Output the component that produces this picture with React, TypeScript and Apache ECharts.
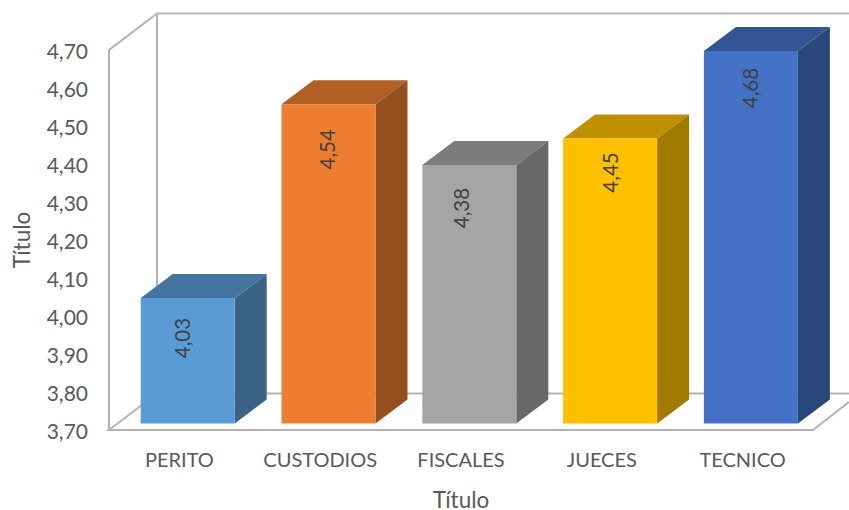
import React, { useEffect, useRef } from "react";
import * as echarts from "echarts";

const categories = ["PERITO", "CUSTODIOS", "FISCALES", "JUECES", "TECNICO"];
const values = [4.03, 4.54, 4.38, 4.45, 4.68];
const frontColors = ["#5B9BD5", "#ED7D31", "#A5A5A5", "#FFC000", "#4472C4"];
const topColors = ["#4475A1", "#B25E25", "#7C7C7C", "#BF9000", "#335593"];
const sideColors = ["#3A6386", "#96501F", "#686868", "#A17A00", "#2A477C"];
const labelShiftX = [-6, -2, -8, 0, -1];
const labelShiftY = [-1, 4, 2, -7, -4];
const axisName = "Título";
const yMin = 3.7;
const yMax = 4.7;
const yStep = 0.1;

const FONT = "Lato, 'Open Sans', sans-serif";
const GRID = { left: 109, top: 50, width: 704, height: 380 };
const DX = 48;
const DY = 36.5;
const BAR_W = 94;
const BAR_OFF_X = 8.3;
const BAR_OFF_Y = 6.5;
const DEPTH_X = 32;
const DEPTH_Y = 24;
const WALL = "#B3B3B3";

const comma = (v: number) => v.toFixed(2).replace(".", ",");

function renderBar(params: any, api: any) {
  const i = api.value(0);
  const v = api.value(1);
  const top = api.coord([i, v]);
  const base = api.coord([i, yMin]);
  const cx = top[0] + BAR_OFF_X;
  const x0 = cx - BAR_W / 2;
  const x1 = cx + BAR_W / 2;
  const y0 = top[1] - BAR_OFF_Y;
  const y1 = base[1] - BAR_OFF_Y;
  const idx = params.dataIndex;
  return {
    type: "group",
    children: [
      {
        type: "polygon",
        shape: { points: [[x0, y0], [x0 + DEPTH_X, y0 - DEPTH_Y], [x1 + DEPTH_X, y0 - DEPTH_Y], [x1, y0]] },
        style: { fill: topColors[idx] },
      },
      {
        type: "polygon",
        shape: { points: [[x1, y0], [x1 + DEPTH_X, y0 - DEPTH_Y], [x1 + DEPTH_X, y1 - DEPTH_Y], [x1, y1]] },
        style: { fill: sideColors[idx] },
      },
      {
        type: "rect",
        shape: { x: x0, y: y0, width: BAR_W, height: y1 - y0 },
        style: { fill: frontColors[idx] },
      },
      {
        type: "text",
        x: cx + labelShiftX[idx],
        y: y0 + 41 + labelShiftY[idx],
        rotation: Math.PI / 2,
        style: {
          text: comma(v),
          font: `20.5px ${FONT}`,
          fill: "#404040",
          align: "center",
          verticalAlign: "middle",
        },
      },
    ],
  };
}

export default function App() {
  const ref = useRef<HTMLDivElement>(null);
  useEffect(() => {
    document.body.style.margin = "0";
    const chart = echarts.init(ref.current!, undefined, { renderer: "svg" });
    const L = GRID.left;
    const T = GRID.top;
    const B = GRID.top + GRID.height;
    const R = GRID.left + GRID.width;
    const line = { stroke: WALL, lineWidth: 2, fill: "none" };
    chart.setOption({
      animation: false,
      backgroundColor: "#FFFFFF",
      grid: { left: L, top: T, width: GRID.width, height: GRID.height, containLabel: false, outerBoundsMode: "none" },
      graphic: {
        elements: [
          { type: "polyline", z: 0, silent: true, shape: { points: [[L, B], [L, T], [L + DX, T - DY], [849, T - DY]] }, style: line },
          { type: "line", z: 0, silent: true, shape: { x1: L + DX, y1: T - DY, x2: L + DX, y2: B - DY }, style: line },
          { type: "line", z: 0, silent: true, shape: { x1: L + DX, y1: B - DY, x2: 849, y2: B - DY }, style: line },
          { type: "polyline", z: 0, silent: true, shape: { points: [[L + DX, B - DY], [L, B], [R, B], [849, B - 28]] }, style: line },
        ],
      },
      xAxis: {
        type: "category",
        data: categories,
        name: axisName,
        nameLocation: "middle",
        nameGap: 58,
        nameTextStyle: { color: "#595959", fontSize: 22.5, fontFamily: FONT },
        axisLine: { show: false },
        axisTick: { show: false },
        splitLine: { show: false },
        axisLabel: { color: "#595959", fontSize: 20, fontFamily: FONT, margin: 19, interval: 0, hideOverlap: false },
      },
      yAxis: {
        type: "value",
        min: yMin,
        max: yMax,
        interval: yStep,
        name: axisName,
        nameLocation: "middle",
        nameGap: 76,
        nameTextStyle: { color: "#595959", fontSize: 22.5, fontFamily: FONT },
        axisLine: { show: false },
        axisTick: { show: false },
        splitLine: { show: false },
        axisLabel: { color: "#595959", fontSize: 21, fontFamily: FONT, margin: 21, formatter: (v: number) => comma(v) },
      },
      series: [
        {
          type: "custom",
          clip: false,
          z: 5,
          encode: { x: 0, y: 1 },
          data: values.map((v, i) => [i, v]),
          renderItem: renderBar,
        },
      ],
    });
    return () => chart.dispose();
  }, []);
  return <div ref={ref} style={{ position: "fixed", left: 0, top: 0, width: 849, height: 510 }} />;
}
